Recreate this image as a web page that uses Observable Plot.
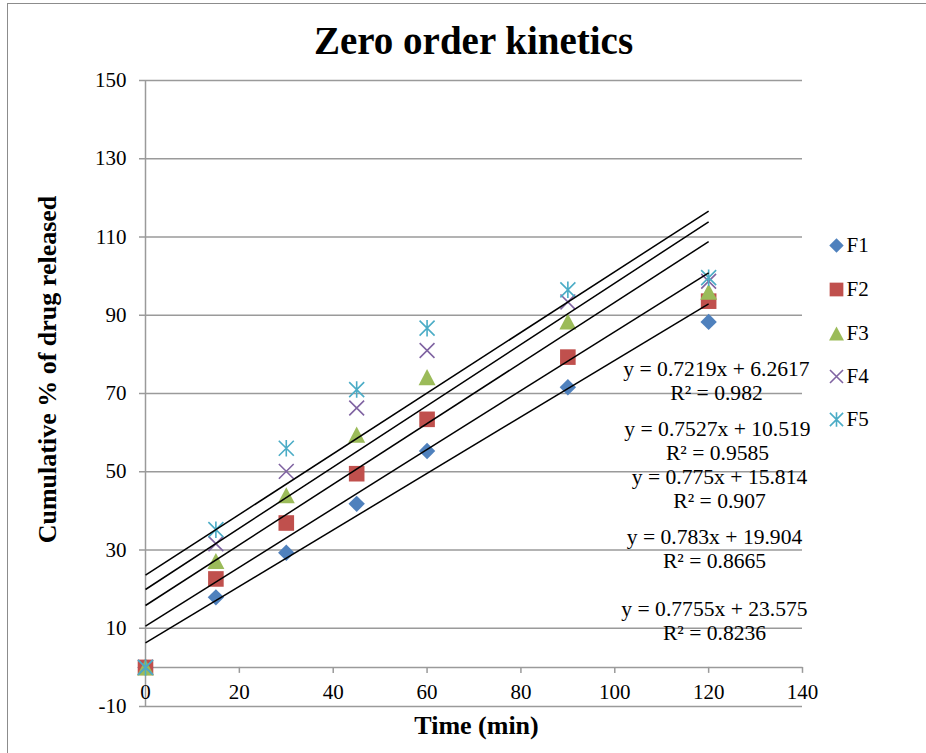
<!DOCTYPE html>
<html>
<head>
<meta charset="utf-8">
<script src="https://cdn.jsdelivr.net/npm/d3@7"></script>
<script src="https://cdn.jsdelivr.net/npm/@observablehq/plot@0.6"></script>
<style>
  html, body { margin: 0; padding: 0; background: #fff; }
  #wrap { position: relative; width: 926px; height: 753px; overflow: hidden; }
  #frame { position: absolute; left: 7px; top: 3px; right: -4px; bottom: -4px;
           border-top: 1.5px solid #8c8c8c; border-left: 1.5px solid #8c8c8c; pointer-events: none; }
</style>
</head>
<body>
<div id="wrap"><div id="frame"></div></div>
<script>
// Sampling times (min)
const times = [0, 15, 30, 45, 60, 90, 120];

// Cumulative % of drug released per formulation
const seriesNames = ["F1", "F2", "F3", "F4", "F5"];
const f1 = [0, 17.9, 29.3, 41.8, 55.3, 71.6, 88.3];
const f2 = [0, 22.6, 36.9, 49.5, 63.4, 79.3, 93.6];
const f3 = [0, 27.2, 44.0, 59.5, 74.2, 88.4, 96.0];
const f4 = [0, 31.6, 50.1, 66.3, 81.0, 93.4, 98.7];
const f5 = [0, 35.2, 56.0, 71.0, 86.7, 96.5, 99.6];

// Linear (zero order) fits
const slopes = [0.7219, 0.7527, 0.775, 0.783, 0.7755];
const intercepts = [6.2617, 10.519, 15.814, 19.904, 23.575];
const rSquared = ["0.982", "0.9585", "0.907", "0.8665", "0.8236"];

// Axis ticks
const xTicks = [0, 20, 40, 60, 80, 100, 120, 140];
const yTicks = [-10, 10, 30, 50, 70, 90, 110, 130, 150];

// ---- layout ----
const W = 926, H = 753;
const mL = 145, mR = 124, mT = 80, mB = 47;
const xDom = [0, 140], yDom = [-10, 150];
// pixel -> data helpers for placing annotations
const xAt = px => xDom[0] + (px - mL) / (W - mL - mR) * (xDom[1] - xDom[0]);
const yAt = py => yDom[1] - (py - mT) / (H - mT - mB) * (yDom[1] - yDom[0]);
const tickX = xAt(mL) - xAt(mL - 6);   // 6px in x units
const tickY = yAt(0) - yAt(6);         // 6px in y units

const colors = ["#4F81BD", "#C0504D", "#9BBB59", "#8064A2", "#4BACC6"];
const grid = "#9a9a9a";

// marker shapes (size = π r², r = half extent)
const half = s => Math.sqrt(s / Math.PI);
const diamond = { draw(c, s) { const r = half(s); c.moveTo(0, -r); c.lineTo(r, 0); c.lineTo(0, r); c.lineTo(-r, 0); c.closePath(); } };
const square = { draw(c, s) { const r = half(s); c.rect(-r, -r, 2 * r, 2 * r); } };
const triangle = { draw(c, s) { const r = half(s), h = 0.95 * r; c.moveTo(0, -h); c.lineTo(r, h); c.lineTo(-r, h); c.closePath(); } };
const cross = { draw(c, s) { const r = half(s); c.moveTo(-r, -r); c.lineTo(r, r); c.moveTo(r, -r); c.lineTo(-r, r); } };
const star = { draw(c, s) { const r = half(s); c.moveTo(-r, -r); c.lineTo(r, r); c.moveTo(r, -r); c.lineTo(-r, r); c.moveTo(0, -r * 1.1); c.lineTo(0, r * 1.1); } };

const markers = [
  { symbol: diamond, r: 8.2, filled: true },
  { symbol: square, r: 7.8, filled: true },
  { symbol: triangle, r: 8.5, filled: true },
  { symbol: cross, r: 7.4, filled: false },
  { symbol: star, r: 7.5, filled: false }
];

const values = [f1, f2, f3, f4, f5];
const series = seriesNames.map((name, i) => times.map((t, j) => ({ t, v: values[i][j], name })));
const fits = seriesNames.map((name, i) => ({ name, m: slopes[i], b: intercepts[i], r2: rSquared[i] }));

function dotOpts(i, extra) {
  const mk = markers[i];
  return Object.assign({
    symbol: mk.symbol, r: mk.r,
    fill: mk.filled ? colors[i] : "none",
    stroke: mk.filled ? "none" : colors[i],
    strokeWidth: mk.filled ? 0 : 1.6
  }, extra);
}

// equation label centers and legend rows (pixels)
const eqCenters = [[716, 380], [717, 440], [719, 488], [714, 548], [714, 620]];
const legendRows = [245, 289, 333, 376, 419];

const marks = [
  // horizontal gridlines, extended left to form the tick marks
  Plot.ruleY(yTicks, { y: d => d, x1: () => xDom[0] - tickX, x2: () => xDom[1], stroke: grid, strokeWidth: 1.5 }),
  // vertical value axis
  Plot.ruleX([0], { x: d => d, y1: () => yDom[0], y2: () => yDom[1], stroke: grid, strokeWidth: 1.5 }),
  // horizontal axis at y = 0 with downward ticks
  Plot.ruleY([0], { y: d => d, x1: () => xDom[0], x2: () => xDom[1], stroke: grid, strokeWidth: 1.5 }),
  Plot.ruleX(xTicks, { x: d => d, y1: () => 0, y2: () => -tickY, stroke: grid, strokeWidth: 1.5 }),
  // tick labels
  Plot.text(yTicks, { x: () => xDom[0], y: d => d, text: d => String(d), textAnchor: "end", dx: -19, fontSize: 21 }),
  Plot.text(xTicks, { x: d => d, y: () => 0, text: d => String(d), dy: 25, fontSize: 21 }),
  // data markers
  ...series.map((data, i) => Plot.dot(data, dotOpts(i, { x: "t", y: "v" }))),
  // fitted lines from 0 to 120 min
  Plot.link(fits, { x1: () => 0, x2: () => 120, y1: d => d.b, y2: d => d.m * 120 + d.b, stroke: "black", strokeWidth: 1.5 }),
  // equations
  Plot.text(fits, {
    x: (d, i) => xAt(eqCenters[i][0]), y: (d, i) => yAt(eqCenters[i][1]),
    text: d => `y = ${d.m}x + ${d.b}\nR² = ${d.r2}`,
    lineHeight: 1.12, fontSize: 21.6
  }),
  // legend
  ...seriesNames.map((name, i) => Plot.dot([name], dotOpts(i, { x: () => xAt(836), y: () => yAt(legendRows[i]), r: markers[i].r * 0.88 }))),
  Plot.text(seriesNames, { x: () => xAt(846), y: (d, i) => yAt(legendRows[i]), text: d => d, textAnchor: "start", fontSize: 21 }),
  // titles
  Plot.text(["Zero order kinetics"], { x: () => xAt(473), y: () => yAt(41), text: d => d, fontSize: 39, fontWeight: "bold" }),
  Plot.text(["Time (min)"], { x: () => xAt(476), y: () => yAt(725), text: d => d, fontSize: 26, fontWeight: "bold" }),
  Plot.text(["Cumulative % of drug released"], { x: () => xAt(47), y: () => yAt(369), text: d => d, rotate: -90, fontSize: 26, fontWeight: "bold" })
];

const chart = Plot.plot({
  width: W,
  height: H,
  marginLeft: mL, marginRight: mR, marginTop: mT, marginBottom: mB,
  x: { domain: xDom, axis: null },
  y: { domain: yDom, axis: null },
  style: { fontFamily: "'Liberation Serif', 'Times New Roman', serif", fontSize: "21px", color: "black", background: "transparent" },
  marks
});

document.getElementById("wrap").prepend(chart);
</script>
</body>
</html>
